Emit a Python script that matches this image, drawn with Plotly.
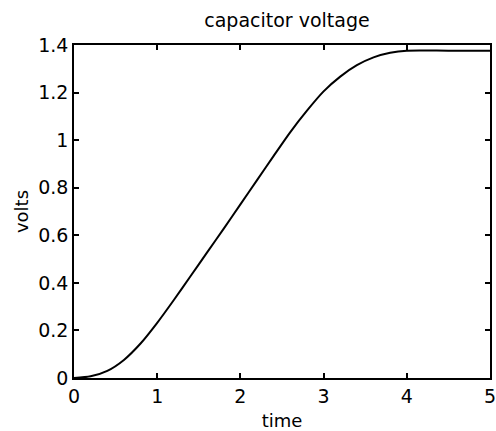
import plotly.graph_objects as go

time = [0, 0.2, 0.4, 0.6, 0.8, 1.0, 1.2, 1.4, 1.6, 1.8, 2.0, 2.2, 2.4, 2.6, 2.8,
        3.0, 3.2, 3.4, 3.6, 3.8, 4.0, 4.5, 5.0]
volts = [0, 0.007, 0.03, 0.076, 0.145, 0.232, 0.328, 0.428, 0.528, 0.628, 0.73, 0.832, 0.934,
         1.034, 1.124, 1.205, 1.267, 1.315, 1.348, 1.367, 1.376, 1.376, 1.376]
x_ticks = [0, 1, 2, 3, 4, 5]
y_ticks = [0, 0.2, 0.4, 0.6, 0.8, 1.0, 1.2, 1.4]
y_labels = ["0", "0.2", "0.4", "0.6", "0.8", "1", "1.2", "1.4"]

font = "DejaVu Sans, Liberation Sans, Arial, sans-serif"

fig = go.Figure(go.Scatter(x=time, y=volts, mode="lines",
                           line=dict(color="black", width=2, shape="spline", smoothing=0.7),
                           showlegend=False, hoverinfo="skip"))

axis_common = dict(showgrid=False, zeroline=False, showline=True, linecolor="black",
                   linewidth=1.5, mirror="ticks", ticks="inside", ticklen=5,
                   tickcolor="black", tickwidth=1.5, automargin=False,
                   ticklabeloverflow="allow",
                   tickfont=dict(family=font, size=19, color="black"))

fig.update_layout(
    width=496, height=431,
    margin=dict(l=74, r=6, t=45, b=53),
    paper_bgcolor="white", plot_bgcolor="white",
    title=dict(text="capacitor voltage", x=0.512, xref="paper", xanchor="center",
               y=0.953, yanchor="middle",
               font=dict(family=font, size=19, color="black")),
    xaxis=dict(range=[0, 5], tickvals=x_ticks, ticktext=[str(v) for v in x_ticks],
               title=dict(text="time", font=dict(family=font, size=18, color="black"), standoff=11),
               **axis_common),
    yaxis=dict(range=[0, 1.4], tickvals=y_ticks, ticktext=y_labels,
               title=dict(text="volts", font=dict(family=font, size=18, color="black"), standoff=5),
               **axis_common),
)

fig.write_html("out.html", config={"displayModeBar": False},
               post_script="document.body.style.margin='0';")
